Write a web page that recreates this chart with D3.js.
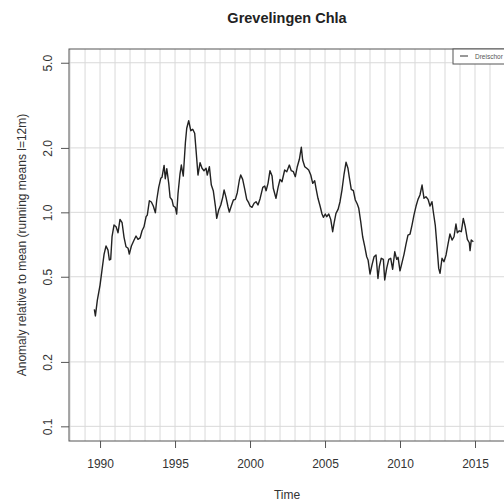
<!DOCTYPE html>
<html><head><meta charset="utf-8">
<script src="https://cdn.jsdelivr.net/npm/d3@7"></script>
<style>body{margin:0;background:#fff;}svg{display:block;font-family:"Liberation Sans",Arial,sans-serif;}</style>
</head><body>
<script>
const title = "Grevelingen Chla";
const xLabel = "Time";
const yLabel = "Anomaly relative to mean (running means l=12m)";
const seriesName = "Dreischor";
const xTicks = [1990, 1995, 2000, 2005, 2010, 2015];
const yTicks = [0.1, 0.2, 0.5, 1.0, 2.0, 5.0];
const gridYears = d3.range(1988, 2017);
const years = [1989.62,1989.69,1989.82,1990.0,1990.13,1990.27,1990.40,1990.53,1990.62,1990.71,1990.80,1990.93,1991.07,1991.20,1991.33,1991.47,1991.60,1991.73,1991.87,1991.95,1992.09,1992.27,1992.40,1992.53,1992.67,1992.80,1992.93,1993.07,1993.15,1993.29,1993.42,1993.55,1993.69,1993.78,1993.91,1994.05,1994.13,1994.27,1994.35,1994.45,1994.58,1994.67,1994.80,1994.89,1995.02,1995.11,1995.20,1995.33,1995.42,1995.55,1995.69,1995.78,1995.91,1996.05,1996.18,1996.31,1996.40,1996.53,1996.67,1996.80,1996.93,1997.07,1997.15,1997.29,1997.42,1997.55,1997.69,1997.78,1997.91,1998.05,1998.18,1998.27,1998.40,1998.53,1998.62,1998.75,1998.89,1999.02,1999.15,1999.29,1999.38,1999.51,1999.65,1999.78,1999.91,2000.0,2000.13,2000.27,2000.40,2000.53,2000.67,2000.85,2000.98,2001.07,2001.20,2001.33,2001.47,2001.55,2001.73,2001.87,2002.0,2002.13,2002.31,2002.45,2002.62,2002.75,2002.89,2003.02,2003.15,2003.29,2003.42,2003.51,2003.65,2003.78,2003.91,2004.05,2004.18,2004.31,2004.40,2004.53,2004.67,2004.80,2004.89,2005.02,2005.11,2005.25,2005.38,2005.51,2005.60,2005.73,2005.87,2006.0,2006.13,2006.27,2006.40,2006.53,2006.62,2006.75,2006.89,2007.02,2007.15,2007.25,2007.38,2007.51,2007.65,2007.78,2007.87,2008.0,2008.13,2008.27,2008.40,2008.53,2008.62,2008.75,2008.89,2008.98,2009.11,2009.25,2009.38,2009.51,2009.65,2009.78,2009.87,2010.0,2010.13,2010.27,2010.40,2010.53,2010.67,2010.80,2010.93,2011.07,2011.20,2011.33,2011.47,2011.60,2011.73,2011.87,2012.0,2012.13,2012.22,2012.35,2012.45,2012.58,2012.67,2012.80,2012.93,2013.07,2013.20,2013.33,2013.47,2013.60,2013.73,2013.82,2013.95,2014.09,2014.22,2014.35,2014.49,2014.62,2014.67,2014.75,2014.89];
const values = [0.352,0.328,0.389,0.457,0.537,0.638,0.696,0.666,0.599,0.603,0.769,0.872,0.856,0.803,0.927,0.894,0.764,0.691,0.679,0.638,0.696,0.742,0.775,0.748,0.759,0.820,0.856,0.954,0.971,1.133,1.117,1.070,0.996,1.142,1.309,1.442,1.458,1.658,1.436,1.599,1.366,1.175,1.142,1.070,1.055,0.982,1.227,1.510,1.663,1.477,2.115,2.470,2.679,2.406,2.443,2.340,1.955,1.494,1.705,1.606,1.565,1.606,1.494,1.634,1.341,1.262,1.070,0.937,1.025,1.082,1.175,1.271,1.175,1.062,1.003,1.070,1.142,1.150,1.235,1.416,1.494,1.426,1.281,1.150,1.109,1.070,1.055,1.102,1.121,1.082,1.158,1.309,1.327,1.262,1.366,1.565,1.477,1.295,1.163,1.309,1.426,1.390,1.577,1.548,1.663,1.565,1.548,1.467,1.634,1.769,2.013,1.756,1.634,1.606,1.577,1.494,1.366,1.405,1.295,1.163,1.070,0.982,0.948,0.982,0.954,0.982,0.927,0.812,0.888,0.989,1.033,1.121,1.271,1.510,1.713,1.606,1.458,1.281,1.262,1.142,1.093,1.044,0.904,0.769,0.691,0.620,0.599,0.515,0.567,0.620,0.632,0.491,0.557,0.610,0.603,0.483,0.547,0.603,0.610,0.542,0.654,0.603,0.616,0.533,0.581,0.638,0.711,0.783,0.792,0.872,0.971,1.070,1.150,1.205,1.341,1.163,1.183,1.150,1.070,1.121,1.006,0.872,0.716,0.547,0.519,0.610,0.588,0.632,0.711,0.792,0.742,0.769,0.882,0.803,0.820,0.812,0.937,0.856,0.748,0.721,0.662,0.742,0.729];

const W = 504, H = 502;
const L = 69, R = 505, T = 49, B = 441;
const svg = d3.select("body").append("svg").attr("width", W).attr("height", H);
const x = d3.scaleLinear().domain([1987.93, 2017.0]).range([L, R]);
const y = d3.scaleLog().domain([0.0854, 5.797]).range([B, T]);

// grid
svg.append("g").selectAll("line").data(gridYears).join("line")
  .attr("x1", d => x(d)).attr("x2", d => x(d)).attr("y1", T).attr("y2", B)
  .attr("stroke", "#d9d9d9").attr("stroke-width", 1);
svg.append("g").selectAll("line").data(yTicks).join("line")
  .attr("x1", L).attr("x2", R).attr("y1", d => y(d)).attr("y2", d => y(d))
  .attr("stroke", "#d9d9d9").attr("stroke-width", 1);

// line
const data = years.map((t, i) => ({t, v: values[i]}));
svg.append("path").datum(data)
  .attr("fill", "none").attr("stroke", "#222").attr("stroke-width", 1.4)
  .attr("stroke-linejoin", "round")
  .attr("d", d3.line().x(d => x(d.t)).y(d => y(d.v)));

// box
svg.append("rect").attr("x", L).attr("y", T).attr("width", R - L).attr("height", B - T)
  .attr("fill", "none").attr("stroke", "#555").attr("stroke-width", 1);

// axes
const xAxis = svg.append("g").attr("transform", `translate(0,${B})`)
  .call(d3.axisBottom(x).tickValues(xTicks).tickSize(7).tickFormat(d3.format("d")));
xAxis.select(".domain").remove();
xAxis.selectAll("line").attr("stroke", "#555");
xAxis.selectAll("text").attr("font-size", 12).attr("fill", "#333").attr("dy", null).attr("y", 27)
  .attr("font-family", "Liberation Sans, Arial, sans-serif");

const yAxis = svg.append("g").attr("transform", `translate(${L},0)`)
  .call(d3.axisLeft(y).tickValues(yTicks).tickSize(8).tickFormat(d3.format(".1f")));
yAxis.select(".domain").remove();
yAxis.selectAll("line").attr("stroke", "#555");
yAxis.selectAll("text").attr("font-size", 12).attr("fill", "#333")
  .attr("font-family", "Liberation Sans, Arial, sans-serif")
  .attr("x", null).attr("dy", null).attr("text-anchor", "middle")
  .attr("transform", "translate(-17,0) rotate(-90)");

// titles
svg.append("text").attr("x", (L + R) / 2).attr("y", 23).attr("text-anchor", "middle")
  .attr("font-size", 14.5).attr("font-weight", "bold").attr("fill", "#222").text(title);
svg.append("text").attr("x", (L + R) / 2).attr("y", 499).attr("text-anchor", "middle")
  .attr("font-size", 12).attr("fill", "#333").text(xLabel);
svg.append("text").attr("transform", `translate(26,${(T + B) / 2}) rotate(-90)`)
  .attr("text-anchor", "middle").attr("font-size", 12).attr("fill", "#333").text(yLabel);

// legend
const lg = svg.append("g");
lg.append("rect").attr("x", 453).attr("y", T).attr("width", R - 453).attr("height", 15)
  .attr("fill", "#fff").attr("stroke", "#555").attr("stroke-width", 1);
lg.append("line").attr("x1", 460).attr("x2", 468).attr("y1", 56).attr("y2", 56)
  .attr("stroke", "#333").attr("stroke-width", 1);
lg.append("text").attr("x", 475).attr("y", 58.5).attr("font-size", 6.5).attr("fill", "#555").text(seriesName);
</script>
</body></html>
